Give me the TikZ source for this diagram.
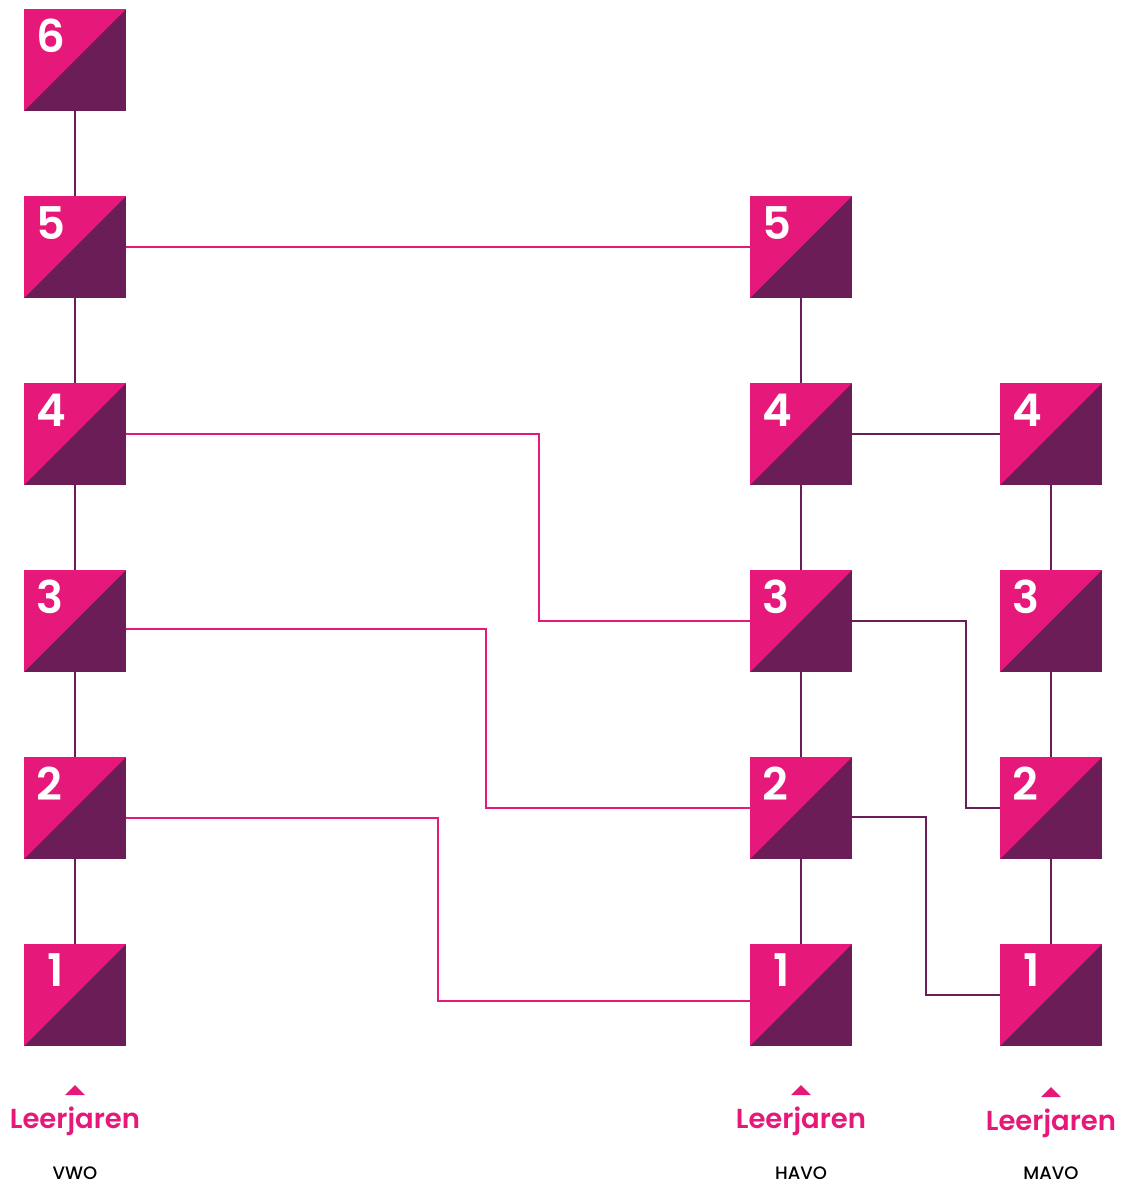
\documentclass[tikz,border=0pt]{standalone}
\usepackage{fontspec}
\newfontfamily\popsb{Poppins SemiBold}
\newfontfamily\popm{Poppins Medium}
\definecolor{vpink}{HTML}{E6197A}
\definecolor{vpurple}{HTML}{6A1D56}
\begin{document}
\begin{tikzpicture}[x=1pt,y=-1pt,
  box/.style={rectangle, minimum size=102pt, inner sep=0pt, fill=vpurple,
    path picture={\fill[vpink] (path picture bounding box.north west) -- (path picture bounding box.north east) -- (path picture bounding box.south west) -- cycle;}},
  num/.style={anchor=base west, text=white, font=\popsb\fontsize{45}{45}\selectfont, inner sep=0pt},
  pinkline/.style={draw=vpink, line width=1.6pt},
  purpline/.style={draw=vpurple, line width=1.6pt},
  lj/.style={anchor=base, text=vpink, font=\popsb\fontsize{27.5}{27.5}\selectfont, inner sep=0pt},
  lev/.style={anchor=base, text=black, font=\popm\fontsize{18}{18}\selectfont, inner sep=0pt},
  tri/.style={fill=vpink}
]
\useasboundingbox (0,0) rectangle (1123,1184);
\foreach \r/\y in {6/60,5/247,4/434,3/621,2/808}{
  \node[box] (v\r) at (75,\y) {};
  \node[num] at ([xshift=12pt,yshift=-44pt]v\r.north west) {\r};
}
\foreach \r/\y in {5/247,4/434,3/621,2/808}{
  \node[box] (h\r) at (801,\y) {};
  \node[num] at ([xshift=12pt,yshift=-44pt]h\r.north west) {\r};
}
\foreach \r/\y in {4/434,3/621,2/808}{
  \node[box] (m\r) at (1051,\y) {};
  \node[num] at ([xshift=12pt,yshift=-44pt]m\r.north west) {\r};
}
\foreach \c/\x in {v/75,h/801,m/1051}{
  \node[box] (\c1) at (\x,995) {};
  \node[num] at ([xshift=23pt,yshift=-43pt]\c1.north west) {1};
}
% vertical lines
\draw[purpline] (v6.south) -- (v5.north) (v5.south) -- (v4.north) (v4.south) -- (v3.north) (v3.south) -- (v2.north) (v2.south) -- (v1.north);
\draw[purpline] (h5.south) -- (h4.north) (h4.south) -- (h3.north) (h3.south) -- (h2.north) (h2.south) -- (h1.north);
\draw[purpline] (m4.south) -- (m3.north) (m3.south) -- (m2.north) (m2.south) -- (m1.north);
% cross connectors
\coordinate (c1) at (539,0);
\coordinate (c2) at (486,0);
\coordinate (c3) at (438,0);
\coordinate (c4) at (966,0);
\coordinate (c5) at (926,0);
\coordinate (v3o) at ([yshift=-8pt]v3.east);
\coordinate (v2o) at ([yshift=-10pt]v2.east);
\coordinate (h1o) at ([yshift=-6pt]h1.west);
\coordinate (h2o) at ([yshift=-9pt]h2.east);
\draw[pinkline] (v5.east) -- (h5.west);
\draw[pinkline] (v4.east) -- (v4.east -| c1) -- (c1 |- h3.west) -- (h3.west);
\draw[pinkline] (v3o) -- (v3o -| c2) -- (c2 |- h2.west) -- (h2.west);
\draw[pinkline] (v2o) -- (v2o -| c3) -- (c3 |- h1o) -- (h1o);
\draw[purpline] (h4.east) -- (m4.west);
\draw[purpline] (h3.east) -- (h3.east -| c4) -- (c4 |- m2.west) -- (m2.west);
\draw[purpline] (h2o) -- (h2o -| c5) -- (c5 |- m1.west) -- (m1.west);
% labels
\foreach \c/\x/\dy/\lab in {v/75/0/VWO,h/801/0/HAVO,m/1051/2/MAVO}{
  \fill[tri] (\x-10,1095+\dy) -- (\x+10,1095+\dy) -- (\x,1085+\dy) -- cycle;
  \node[lj] (lj\c) at (\x,1128+\dy) {Leerjaren};
  \node[lev] (lev\c) at (\x,1179) {\lab};
}
\end{tikzpicture}
\end{document}
